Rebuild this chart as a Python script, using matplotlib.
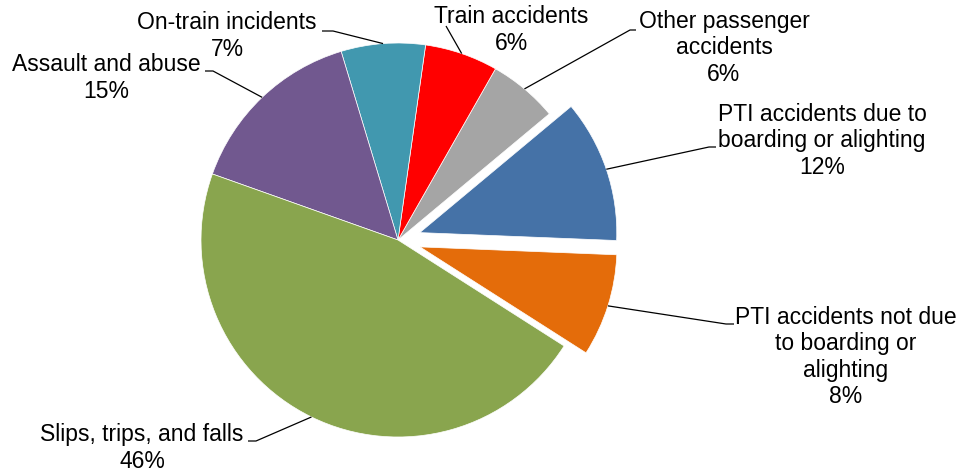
import numpy as np
import matplotlib
matplotlib.use("Agg")
import matplotlib.pyplot as plt

# slice data, counter-clockwise from just below 3 o'clock
categories = ["PTI accidents due to\nboarding or alighting",
              "Other passenger\naccidents",
              "Train accidents",
              "On-train incidents",
              "Assault and abuse",
              "Slips, trips, and falls",
              "PTI accidents not due\nto boarding or\nalighting"]
shares = [11.7, 5.7, 6.0, 6.9, 14.9, 46.4, 8.4]
explode_px = [23, 0, 0, 0, 0, 0, 23]
colors = ["#4572A7", "#A5A5A5", "#FF0000", "#4198AF", "#71588F", "#89A54E", "#E46C0A"]

# layout in pixels (from top-left)
W, H = 962, 474
R = 197.0
cx, cy = 398, 240
text_pos = [(822, 141), (724, 48), (511, 30), (227, 36), (106, 78), (142, 448), (846, 357)]
line_start = [[(716, 147), (709, 147)],
              [(636, 30), (630, 30)],
              [(446, 26)],
              [(322, 31), (333, 31)],
              [(205, 71), (213, 71)],
              [(248, 441), (256, 441)],
              [(734, 324), (726, 324)]]

def px(x, y):
    return x / R, (H - y) / R

plt.rcParams['font.family'] = ['Liberation Sans', 'DejaVu Sans']

fig = plt.figure(figsize=(W / 100, H / 100), dpi=100)
ax = fig.add_axes([0, 0, 1, 1])

wedges, _ = ax.pie(shares, colors=colors, startangle=-2.3, counterclock=True,
                   explode=[e / R for e in explode_px], center=px(cx, cy), radius=1.0,
                   wedgeprops=dict(edgecolor='white', linewidth=0.5))
ax.set_xlim(0, W / R)
ax.set_ylim(0, H / R)
ax.set_aspect('equal')
ax.axis('off')

for w, name, v, tp, ls in zip(wedges, categories, shares, text_pos, line_start):
    tm = np.radians((w.theta1 + w.theta2) / 2)
    ax_x = w.center[0] + w.r * np.cos(tm)
    ax_y = w.center[1] + w.r * np.sin(tm)
    pts = [px(*p) for p in ls] + [(ax_x, ax_y)]
    xs, ys = zip(*pts)
    ax.plot(xs, ys, color='black', lw=0.9, solid_capstyle='butt')
    tx, ty = px(*tp)
    ax.text(tx, ty, f"{name}\n{v:.0f}%", ha='center', va='center', multialignment='center',
            fontsize=16.5, linespacing=1.17, color='black')

fig.savefig("out.png", dpi=100)
